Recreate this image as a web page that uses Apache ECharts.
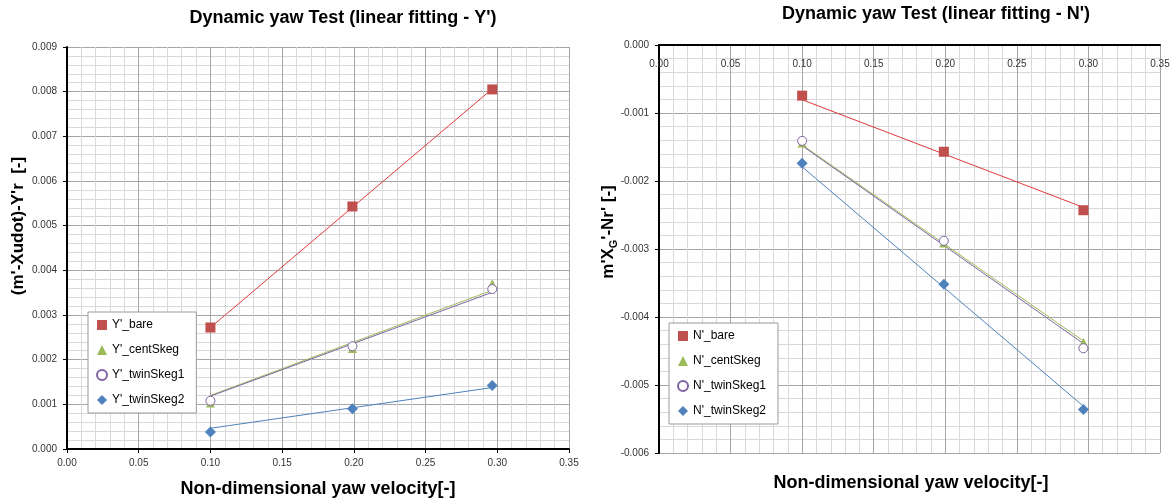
<!DOCTYPE html>
<html>
<head>
<meta charset="utf-8">
<script src="https://cdn.jsdelivr.net/npm/echarts@6/dist/echarts.min.js"></script>
<style>
  html, body { margin: 0; padding: 0; background: #ffffff; }
  #c { width: 1176px; height: 501px; }
</style>
</head>
<body>
<div id="c"></div>
<script>
// Non-dimensional yaw velocity r' of the three dynamic yaw runs
const yawVelocity = [0.100, 0.199, 0.2965];

// Sway force coefficient (m'-Xudot)-Y'r per hull configuration
const yBare       = [0.00272, 0.00543, 0.00805];
const yCentSkeg   = [0.00103, 0.00225, 0.00370];
const yTwinSkeg1  = [0.00108, 0.00230, 0.00358];
const yTwinSkeg2  = [0.00038, 0.00090, 0.00142];

// Yaw moment coefficient m'X_G'-Nr' per hull configuration
const nBare       = [-0.000745, -0.00157, -0.00243];
const nCentSkeg   = [-0.00144, -0.00291, -0.00437];
const nTwinSkeg1  = [-0.00141, -0.00288, -0.00446];
const nTwinSkeg2  = [-0.00174, -0.00352, -0.00536];

const yNames = ["Y'_bare", "Y'_centSkeg", "Y'_twinSkeg1", "Y'_twinSkeg2"];
const nNames = ["N'_bare", "N'_centSkeg", "N'_twinSkeg1", "N'_twinSkeg2"];

const xTicks = { min: 0, max: 0.35, interval: 0.05 };
const yTicksLeft = { min: 0, max: 0.009, interval: 0.001 };
const yTicksRight = { min: -0.006, max: 0, interval: 0.001 };

const FONT = "'Liberation Sans', Arial, sans-serif";

// marker looks per configuration: bare, centSkeg, twinSkeg1, twinSkeg2
const markerStyles = [
  { symbol: 'rect', size: 10, item: { color: '#C0504D' }, line: '#E0383C' },
  { symbol: 'triangle', size: 9, item: { color: '#9BBB59' }, line: '#9BBB59' },
  { symbol: 'circle', size: 9, item: { color: '#ffffff', borderColor: '#8064A2', borderWidth: 1 }, line: '#8064A2' },
  { symbol: 'diamond', size: 11, item: { color: '#4F81BD' }, line: '#4F81BD' }
];

// least-squares line through the origin, drawn over the measured range
function originFit(xs, ys) {
  let sxy = 0, sxx = 0;
  xs.forEach((x, i) => { sxy += x * ys[i]; sxx += x * x; });
  const k = sxy / sxx;
  const x0 = xs[0], x1 = xs[xs.length - 1];
  return [[x0, k * x0], [x1, k * x1]];
}

function pairs(xs, ys) { return xs.map((x, i) => [x, ys[i]]); }

function buildSeries(names, sets, axisIdx) {
  const out = [];
  sets.forEach((ys, i) => {
    const m = markerStyles[i];
    out.push({
      type: 'line', name: names[i] + ' fit',
      xAxisIndex: axisIdx, yAxisIndex: axisIdx,
      data: originFit(yawVelocity, ys),
      showSymbol: false, silent: true,
      lineStyle: { color: m.line, width: 1 },
      z: 3
    });
  });
  sets.forEach((ys, i) => {
    const m = markerStyles[i];
    out.push({
      type: 'scatter', name: names[i],
      xAxisIndex: axisIdx, yAxisIndex: axisIdx,
      data: pairs(yawVelocity, ys),
      symbol: m.symbol, symbolSize: m.size,
      itemStyle: Object.assign({ opacity: 1 }, m.item),
      z: 4
    });
  });
  return out;
}

const gridLine = { lineStyle: { color: '#a6a6a6', width: 1 } };
const minorGridLine = { show: true, lineStyle: { color: '#d9d9d9', width: 1 } };
const tickLabel = { color: '#333333', fontSize: 10, fontFamily: FONT };

function xAxisCfg(gridIndex, top) {
  return Object.assign({
    type: 'value', gridIndex: gridIndex,
    position: top ? 'top' : 'bottom',
    axisLine: { show: true, onZero: false, lineStyle: { color: '#000', width: 2 } },
    axisTick: { show: !top, length: 4, lineStyle: { color: '#000' } },
    axisLabel: Object.assign({ formatter: v => v.toFixed(2), margin: top ? 14 : 9, inside: !!top }, tickLabel),
    splitLine: gridLine,
    minorTick: { show: false, splitNumber: 5 },
    minorSplitLine: minorGridLine
  }, xTicks);
}

function yAxisCfg(gridIndex, ticks) {
  return Object.assign({
    type: 'value', gridIndex: gridIndex,
    axisLine: { show: true, onZero: false, lineStyle: { color: '#000', width: 2 } },
    axisTick: { show: true, length: 4, lineStyle: { color: '#000' } },
    axisLabel: Object.assign({ formatter: v => v.toFixed(3), margin: 10 }, tickLabel),
    splitLine: gridLine,
    minorTick: { show: false, splitNumber: 5 },
    minorSplitLine: minorGridLine
  }, ticks);
}

function legendCfg(names, left, top) {
  return {
    data: names, orient: 'vertical', left: left, top: top,
    selectedMode: false,
    backgroundColor: '#ffffff', borderColor: '#9a9a9a', borderWidth: 1,
    padding: [7, 12, 7, 8], itemGap: 13,
    itemWidth: 10, itemHeight: 10,
    textStyle: { color: '#000', fontSize: 12, fontFamily: FONT }
  };
}

function label(text, x, y, size, rotate, rich) {
  return {
    type: 'text', x: x, y: y, rotation: rotate ? Math.PI / 2 : 0,
    style: {
      text: text, fill: '#000', align: 'center', verticalAlign: 'middle',
      font: 'bold ' + size + 'px ' + FONT, rich: rich
    },
    z: 10
  };
}

const chart = echarts.init(document.getElementById('c'));
chart.setOption({
  backgroundColor: '#ffffff',
  animation: false,
  grid: [
    { left: 67, top: 47, width: 502, height: 402 },
    { left: 659, top: 45, width: 501, height: 408 }
  ],
  xAxis: [xAxisCfg(0, false), xAxisCfg(1, true)],
  yAxis: [yAxisCfg(0, yTicksLeft), yAxisCfg(1, yTicksRight)],
  legend: [legendCfg(yNames, 88, 312), legendCfg(nNames, 669, 323)],
  series: buildSeries(yNames, [yBare, yCentSkeg, yTwinSkeg1, yTwinSkeg2], 0)
    .concat(buildSeries(nNames, [nBare, nCentSkeg, nTwinSkeg1, nTwinSkeg2], 1)),
  graphic: [
    label("Dynamic yaw Test (linear fitting - Y')", 343, 18, 18, false),
    label("Dynamic yaw Test (linear fitting - N')", 936, 14, 18, false),
    label('Non-dimensional yaw velocity[-]', 318, 489, 18, false),
    label('Non-dimensional yaw velocity[-]', 911, 483, 18, false),
    label("(m'-Xudot)-Y'r  [-]", 18, 226, 17, true),
    label("{a|m'X}{s|G}{a|'-Nr' [-]}", 608, 232, 17, true, {
      a: { font: 'bold 17px ' + FONT, fill: '#000', lineHeight: 22, verticalAlign: 'middle' },
      s: { font: 'bold 11px ' + FONT, fill: '#000', lineHeight: 22, verticalAlign: 'bottom', padding: [7, 0, 0, 0] }
    })
  ]
});
</script>
</body>
</html>
